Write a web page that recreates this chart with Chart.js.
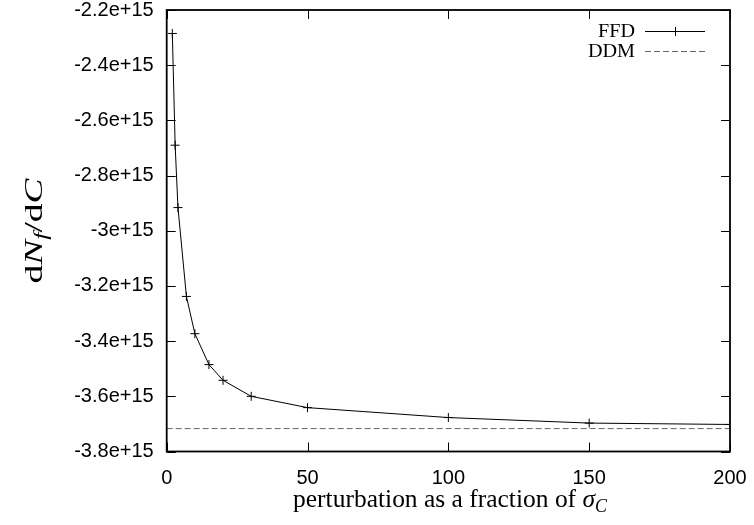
<!DOCTYPE html>
<html>
<head>
<meta charset="utf-8">
<script src="https://cdn.jsdelivr.net/npm/chart.js@4.4.0/dist/chart.umd.min.js"></script>
<style>
  html, body { margin: 0; padding: 0; background: #fff; }
  #wrap { width: 754px; height: 525px; position: relative; }
</style>
</head>
<body>
<div id="wrap"><canvas id="c" width="754" height="525"></canvas></div>
<script>
// ---- data ----
const xValues   = [2, 3, 4, 7, 10, 15, 20, 30, 50, 100, 150, 200];
const ffdValues = [-2.285e15, -2.690e15, -2.916e15, -3.238e15, -3.373e15, -3.485e15,
                   -3.542e15, -3.600e15, -3.641e15, -3.677e15, -3.697e15, -3.702e15];
const ddmX      = [0, 200];
const ddmValue  = -3.717e15;
const xTickValues = [0, 50, 100, 150, 200];
const yTickValues = [-3.8e15, -3.6e15, -3.4e15, -3.2e15, -3.0e15, -2.8e15, -2.6e15, -2.4e15, -2.2e15];
const seriesLabels = ['FFD', 'DDM'];

const ffdData = xValues.map((x, i) => ({ x: x, y: ffdValues[i] }));
const ddmData = ddmX.map(x => ({ x: x, y: ddmValue }));

function fmtY(v) {
  const m = Math.round(v / 1e14) / 10;
  return m + 'e+15';
}

const SERIF = '"Liberation Serif", "DejaVu Serif", serif';
const SANS = '"Liberation Sans", Arial, sans-serif';

// draw a run of text pieces [text, style, sizeFactor, dy]
function drawRich(ctx, pieces, size, x, y) {
  let cx = x;
  for (const p of pieces) {
    const s = size * (p[2] || 1);
    ctx.font = (p[1] || '') + ' ' + s + 'px ' + SERIF;
    ctx.fillText(p[0], cx, y + (p[3] || 0) * size);
    cx += ctx.measureText(p[0]).width;
  }
  return cx - x;
}
function richWidth(ctx, pieces, size) {
  let w = 0;
  for (const p of pieces) {
    ctx.font = (p[1] || '') + ' ' + size * (p[2] || 1) + 'px ' + SERIF;
    w += ctx.measureText(p[0]).width;
  }
  return w;
}

const framePlugin = {
  id: 'frame',
  afterDatasetsDraw(chart) {
    const { ctx, chartArea: a, scales } = chart;
    const xs = scales.x, ys = scales.y;
    ctx.save();
    ctx.strokeStyle = '#000';
    ctx.lineWidth = 1;
    const L = 9;
    ctx.beginPath();
    for (const v of xTickValues) {
      const px = Math.round(xs.getPixelForValue(v)) + 0.5;
      ctx.moveTo(px, a.bottom); ctx.lineTo(px, a.bottom - L);
      ctx.moveTo(px, a.top); ctx.lineTo(px, a.top + L);
    }
    for (const v of yTickValues) {
      const py = Math.round(ys.getPixelForValue(v)) + 0.5;
      ctx.moveTo(a.left, py); ctx.lineTo(a.left + L, py);
      ctx.moveTo(a.right, py); ctx.lineTo(a.right - L, py);
    }
    ctx.stroke();
    ctx.lineWidth = 1.8;
    ctx.strokeRect(a.left, a.top, a.right - a.left, a.bottom - a.top);
    ctx.restore();
  },
  afterDraw(chart) {
    const { ctx } = chart;
    ctx.save();
    ctx.fillStyle = '#000';
    // legend
    ctx.textBaseline = 'middle';
    ctx.textAlign = 'right';
    const lsz = 18;
    ctx.font = lsz + 'px ' + SERIF;
    const sx = 47 / ctx.measureText(seriesLabels[1]).width;
    const lx1 = 645, lx2 = 705;
    const rows = [31, 51];
    for (let i = 0; i < 2; i++) {
      ctx.save();
      ctx.translate(635, rows[i] + 1);
      ctx.scale(sx, 1);
      ctx.fillText(seriesLabels[i], 0, 0);
      ctx.restore();
    }
    ctx.strokeStyle = '#000';
    ctx.lineWidth = 1;
    ctx.beginPath();
    ctx.moveTo(lx1, rows[0] + 0.5); ctx.lineTo(lx2, rows[0] + 0.5);
    const cxm = Math.round((lx1 + lx2) / 2);
    ctx.moveTo(cxm - 4.5, rows[0] + 0.5); ctx.lineTo(cxm + 4.5, rows[0] + 0.5);
    ctx.moveTo(cxm + 0.5, rows[0] - 4); ctx.lineTo(cxm + 0.5, rows[0] + 5);
    ctx.stroke();
    ctx.strokeStyle = '#666';
    ctx.setLineDash([6, 3]);
    ctx.beginPath();
    ctx.moveTo(lx1, rows[1] + 0.5); ctx.lineTo(lx2, rows[1] + 0.5);
    ctx.stroke();
    ctx.setLineDash([]);

    // x title
    ctx.textAlign = 'left';
    ctx.textBaseline = 'alphabetic';
    const xt = [['perturbation as a fraction of ', '', 1, 0], ['σ', 'italic', 1, 0], ['C', 'italic', 0.7, 0.18]];
    let sz = 25;
    sz = sz * 314 / richWidth(ctx, xt, sz);
    const w = richWidth(ctx, xt, sz);
    drawRich(ctx, xt, sz, 450 - w / 2, 507);

    // y title (rotated)
    const yt = [['d', '', 1, 0], ['N', 'italic', 1, 0], ['f', 'italic', 0.7, 0.2], ['/d', '', 1, 0], ['C', 'italic', 1, 0]];
    const ysz = 26;
    const yw = richWidth(ctx, yt, ysz);
    const ysx = 105 / yw;
    ctx.translate(42, 231);
    ctx.rotate(-Math.PI / 2);
    ctx.scale(ysx, 1);
    drawRich(ctx, yt, ysz, -yw / 2, 0);
    ctx.restore();
  }
};

new Chart(document.getElementById('c'), {
  type: 'scatter',
  data: {
    datasets: [
      {
        label: seriesLabels[0],
        data: ffdData,
        showLine: true,
        borderColor: '#000',
        borderWidth: 1,
        pointStyle: 'cross',
        pointRadius: 4.5,
        pointBorderWidth: 1,
        pointBorderColor: '#000',
        pointBackgroundColor: '#000',
        tension: 0
      },
      {
        label: seriesLabels[1],
        data: ddmData,
        showLine: true,
        borderColor: '#666',
        borderWidth: 1,
        borderDash: [6, 3],
        pointRadius: 0,
        tension: 0
      }
    ]
  },
  options: {
    responsive: false,
    animation: false,
    devicePixelRatio: 1,
    layout: { padding: { left: 0, right: 24, top: 10, bottom: 0 } },
    plugins: { legend: { display: false }, tooltip: { enabled: false } },
    scales: {
      x: {
        type: 'linear', min: 0, max: 200,
        afterBuildTicks(s) { s.ticks = xTickValues.map(v => ({ value: v })); },
        afterFit(s) { s.height = 73.5; s.paddingLeft = 0; s.paddingRight = 0; },
        grid: { display: false, drawTicks: false },
        border: { display: false },
        ticks: { color: '#000', font: { family: SANS, size: 20 }, padding: 15, maxRotation: 0, autoSkip: false }
      },
      y: {
        type: 'linear', min: -3.8e15, max: -2.2e15,
        afterBuildTicks(s) { s.ticks = yTickValues.map(v => ({ value: v })); },
        afterFit(s) { s.width = 166.7; s.paddingTop = 0; s.paddingBottom = 0; },
        grid: { display: false, drawTicks: false },
        border: { display: false },
        ticks: { color: '#000', font: { family: SANS, size: 20 }, padding: 13, autoSkip: false, callback: v => fmtY(v) }
      }
    }
  },
  plugins: [framePlugin]
});
</script>
</body>
</html>
